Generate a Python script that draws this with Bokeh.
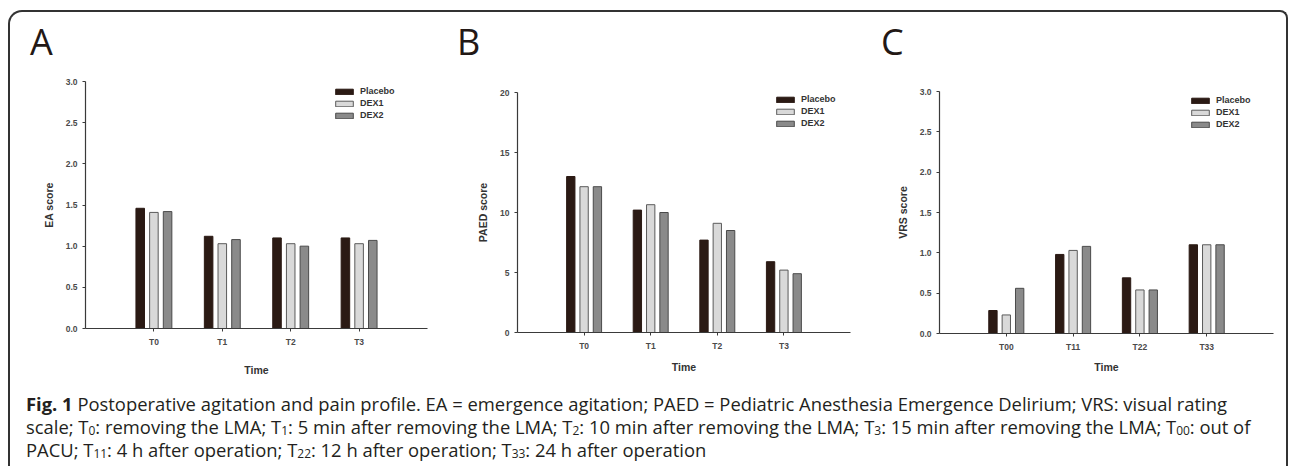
from bokeh.plotting import figure
from bokeh.models import Range1d, FixedTicker, Legend, LegendItem, Div
from bokeh.layouts import row, column
from bokeh.embed import file_html
from bokeh.resources import INLINE

# ---------------- data ----------------
groups = ["Placebo", "DEX1", "DEX2"]
panel_letters = ["A", "B", "C"]

ea_times = ["T0", "T1", "T2", "T3"]
ea_placebo = [1.46, 1.12, 1.10, 1.10]
ea_dex1 = [1.41, 1.03, 1.03, 1.03]
ea_dex2 = [1.42, 1.08, 1.00, 1.07]
ea_ticks = [0.0, 0.5, 1.0, 1.5, 2.0, 2.5, 3.0]
ea_tick_labels = ["0.0", "0.5", "1.0", "1.5", "2.0", "2.5", "3.0"]

paed_times = ["T0", "T1", "T2", "T3"]
paed_placebo = [13.0, 10.2, 7.7, 5.9]
paed_dex1 = [12.15, 10.65, 9.1, 5.2]
paed_dex2 = [12.15, 10.0, 8.5, 4.9]
paed_ticks = [0, 5, 10, 15, 20]
paed_tick_labels = ["0", "5", "10", "15", "20"]

vrs_times = ["T00", "T11", "T22", "T33"]
vrs_placebo = [0.285, 0.98, 0.69, 1.10]
vrs_dex1 = [0.23, 1.03, 0.54, 1.10]
vrs_dex2 = [0.56, 1.08, 0.54, 1.10]
vrs_ticks = [0.0, 0.5, 1.0, 1.5, 2.0, 2.5, 3.0]
vrs_tick_labels = ["0.0", "0.5", "1.0", "1.5", "2.0", "2.5", "3.0"]

# ---------------- styles ----------------
FILLS = ["#2b1a14", "#d9d9d9", "#8a8a8a"]
LINES = ["#2b1a14", "#5a5a5a", "#4a4a4a"]
OFFSETS = [-0.2, 0.0, 0.2]
BAR_W = 0.125
AX_COLOR = "#3a3a3a"
TXT_COLOR = "#4a4a4a"
FONT = "Liberation Sans"


def panel(times, series, ymax, ticks, tick_labels, ylabel,
          width, height, bl, br, bt, bb, label_standoff, time_standoff, legend_xy):
    p = figure(width=width, height=height, output_backend="svg", toolbar_location=None,
               title=None,
               x_range=Range1d(0, len(times) + 1), y_range=Range1d(0, ymax),
               min_border_left=bl, min_border_right=br, min_border_top=bt,
               min_border_bottom=bb)
    p.frame_align = False
    p.outline_line_color = None
    p.xgrid.visible = False
    p.ygrid.visible = False
    p.background_fill_color = "white"
    p.border_fill_color = "white"

    items = []
    for k, vals in enumerate(series):
        xs = [i + 1 + OFFSETS[k] for i in range(len(times))]
        r = p.vbar(x=xs, top=vals, width=BAR_W, bottom=0,
                   fill_color=FILLS[k], line_color=LINES[k], line_width=1)
        items.append(LegendItem(label=groups[k], renderers=[r]))

    xa = p.xaxis[0]
    xa.ticker = FixedTicker(ticks=[i + 1 for i in range(len(times))])
    xa.major_label_overrides = {i + 1: t for i, t in enumerate(times)}
    ya = p.yaxis[0]
    ya.ticker = FixedTicker(ticks=ticks)
    ya.major_label_overrides = {t: s for t, s in zip(ticks, tick_labels)}
    for ax in (xa, ya):
        ax.axis_line_color = AX_COLOR
        ax.axis_line_width = 1.2
        ax.major_tick_line_color = AX_COLOR
        ax.major_tick_out = 3
        ax.major_tick_in = 0
        ax.minor_tick_line_color = None
        ax.major_label_text_font = FONT
        ax.major_label_text_font_style = "bold"
        ax.major_label_text_font_size = "8.5px"
        ax.major_label_text_color = TXT_COLOR
        ax.axis_label_text_font = FONT
        ax.axis_label_text_font_style = "bold"
        ax.axis_label_text_font_size = "10.5px"
        ax.axis_label_text_color = "#333333"
    xa.axis_label = "Time"
    xa.major_label_standoff = label_standoff
    xa.axis_label_standoff = time_standoff
    ya.axis_label = ylabel
    ya.major_label_standoff = 5
    ya.axis_label_standoff = 8

    leg = Legend(items=items, location=legend_xy, orientation="vertical",
                 glyph_width=22, glyph_height=7, label_height=10, spacing=2,
                 padding=0, margin=0, label_standoff=5,
                 border_line_color=None, background_fill_alpha=0,
                 label_text_font=FONT, label_text_font_style="bold",
                 label_text_font_size="9px", label_text_color="#333333")
    p.add_layout(leg, "center")
    return p


pA = panel(ea_times, [ea_placebo, ea_dex1, ea_dex2], 3.0, ea_ticks, ea_tick_labels,
           "EA score", 430, 334, 75, 13, 23, 64, 5, 14, (248, 208))
pB = panel(paed_times, [paed_placebo, paed_dex1, paed_dex2], 20, paed_ticks,
           paed_tick_labels, "PAED score", 430, 334, 77, 20, 34, 60, 5, 7, (257, 204))
pC = panel(vrs_times, [vrs_placebo, vrs_dex1, vrs_dex2], 3.0, vrs_ticks, vrs_tick_labels,
           "VRS score", 416, 334, 69, 13, 33, 59, 5, 6, (250, 204))


def letter_div(letter, pad_left, width):
    html = ('<div style="font-family:\'Open Sans\';font-size:36px;line-height:36px;'
            'color:#231815;padding-top:12px;padding-left:%dpx">%s</div>' % (pad_left, letter))
    return Div(text=html, width=width, height=46, margin=0)


letters = row(letter_div(panel_letters[0], 20, 430),
              letter_div(panel_letters[1], 17, 430),
              letter_div(panel_letters[2], 11, 416))

sub = '<sub style="font-size:65%;line-height:0;vertical-align:-0.12em">'
caption_html = (
    '<div style="font-family:\'Open Sans\';font-size:18.4px;line-height:23px;'
    'white-space:nowrap;color:#231f20;padding-left:16px">'
    '<b>Fig. 1</b> Postoperative agitation and pain profile. EA = emergence agitation; '
    'PAED = Pediatric Anesthesia Emergence Delirium; VRS: visual rating<br>'
    'scale; T' + sub + '0</sub>: removing the LMA; T' + sub + '1</sub>: 5 min after removing the LMA; '
    'T' + sub + '2</sub>: 10 min after removing the LMA; T' + sub + '3</sub>: 15 min after removing the LMA; '
    'T' + sub + '00</sub>: out of<br>'
    'PACU; T' + sub + '11</sub>: 4 h after operation; T' + sub + '22</sub>: 12 h after operation; '
    'T' + sub + '33</sub>: 24 h after operation</div>'
)
cap = Div(text=caption_html, width=1276, height=74, margin=0)

layout = column(letters, row(pA, pB, pC), cap, margin=(10, 0, 0, 8),
                styles={"border-top": "2px solid #333", "border-left": "2px solid #333",
                        "border-right": "2px solid #333",
                        "border-top-left-radius": "14px", "border-top-right-radius": "8px"})

open("out.html", "w").write(file_html(layout, INLINE))
